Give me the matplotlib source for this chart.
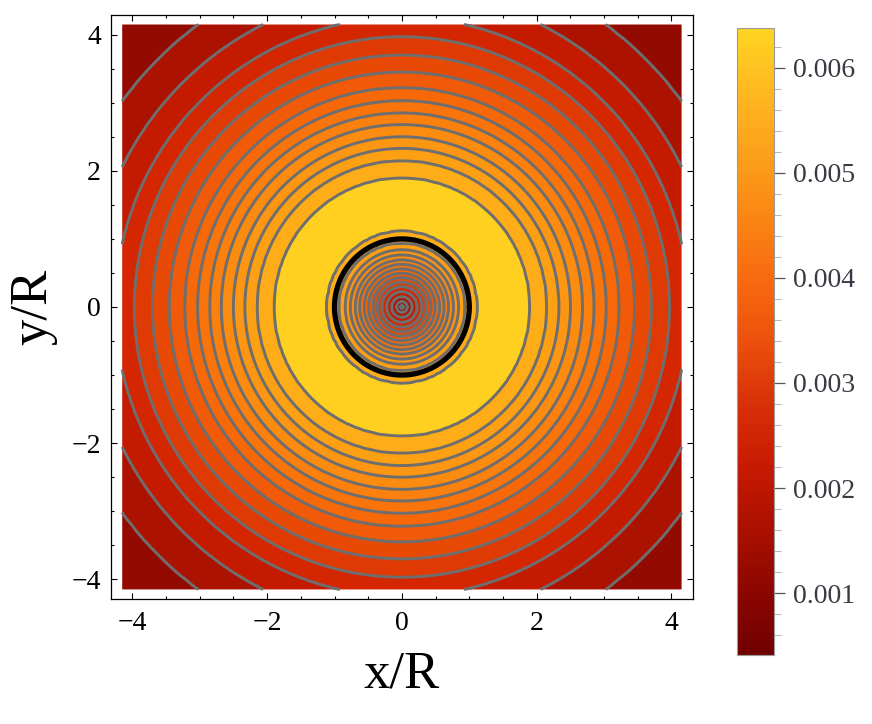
import numpy as np
import matplotlib
matplotlib.use("Agg")
import matplotlib.pyplot as plt
from matplotlib.colors import LinearSegmentedColormap, Normalize
from matplotlib.cm import ScalarMappable
from matplotlib.ticker import FixedLocator

# ---------------- data ----------------
# radial profile of the plotted quantity: radius (in R) -> value
profile_r = [0.0, 0.035, 0.078, 0.152, 0.225, 0.299, 0.363, 0.431, 0.495,
             0.559, 0.627, 0.690, 0.765, 0.840, 0.930, 1.110, 1.500, 1.900,
             2.150, 2.330, 2.500, 2.680, 2.850, 3.030, 3.220, 3.450, 3.700,
             3.970, 4.250, 4.630, 5.130, 5.900]
profile_v = [0.00020, 0.0004, 0.0008, 0.0012, 0.0016, 0.0020, 0.0024, 0.0028,
             0.0032, 0.0036, 0.0040, 0.0044, 0.0048, 0.0052, 0.0056, 0.0060,
             0.0064, 0.0060, 0.0056, 0.0052, 0.0048, 0.0044, 0.0040, 0.0036,
             0.0032, 0.0028, 0.0024, 0.0020, 0.0016, 0.0012, 0.0008, 0.00045]
contour_levels = [0.0004, 0.0008, 0.0012, 0.0016, 0.0020, 0.0024, 0.0028,
                  0.0032, 0.0036, 0.0040, 0.0044, 0.0048, 0.0052, 0.0056,
                  0.0060]
field_min, field_max = 0.0, 0.0070
data_extent = 4.15            # plotted region |x|,|y| <= 4.15
boundary_radius = 1.0         # thick black circle r = R
x_ticks = [-4, -2, 0, 2, 4]
y_ticks = [-4, -2, 0, 2, 4]
cbar_range = (0.00041, 0.00638)
cbar_ticks = [0.001, 0.002, 0.003, 0.004, 0.005, 0.006]
cbar_ticklabels = ["0.001", "0.002", "0.003", "0.004", "0.005", "0.006"]
cbar_minor = [0.0006, 0.0008, 0.0012, 0.0014, 0.0016, 0.0018, 0.0022, 0.0024,
              0.0026, 0.0028, 0.0032, 0.0034, 0.0036, 0.0038, 0.0042, 0.0044,
              0.0046, 0.0048, 0.0052, 0.0054, 0.0056, 0.0058, 0.0062]

# ---------------- style ----------------
band_colors = ["#7A0000", "#930A00", "#AC1200", "#C41A00", "#D42600",
               "#E03A04", "#E84A06", "#F05A08", "#F66808", "#F9740A",
               "#FB800E", "#FC8C10", "#FD9612", "#FEA014", "#FEAC18",
               "#FFD020"]
gradient = ["#700000", "#8C0600", "#AA1000", "#C81A02", "#D83008",
            "#EC500C", "#F86A10", "#FA8614", "#FCA01A", "#FFB820", "#FFD422"]
cmap = LinearSegmentedColormap.from_list("solar", gradient)

plt.rcParams['font.family'] = ['Liberation Serif', 'DejaVu Serif']

fig = plt.figure(figsize=(8.72, 7.24), dpi=100)
ax = fig.add_axes([0.127, 0.1727, 0.6678, 0.8066])

n = 161
xs = np.linspace(-data_extent, data_extent, n)
X, Y = np.meshgrid(xs, xs)
Rr = np.hypot(X, Y)
Z = np.interp(Rr, profile_r, profile_v)

fill_levels = [field_min] + contour_levels + [field_max]
ax.contourf(X, Y, Z, levels=fill_levels, colors=band_colors, antialiased=True)
ax.contour(X, Y, Z, levels=contour_levels, colors="#6E6E6E", linewidths=2.1)

theta = np.linspace(0, 2 * np.pi, 400)
ax.plot(boundary_radius * np.cos(theta), boundary_radius * np.sin(theta),
        color="black", lw=3.8, solid_capstyle="round")

ax.set_xlim(-4.32, 4.32)
ax.set_ylim(-4.29, 4.29)
ax.set_xticks(x_ticks)
ax.set_yticks(y_ticks)
ax.set_xticklabels([f"\u2212{abs(t)}" if t < 0 else str(t) for t in x_ticks])
ax.set_yticklabels([f"\u2212{abs(t)}" if t < 0 else str(t) for t in y_ticks])
ax.xaxis.set_minor_locator(FixedLocator(np.arange(-4, 4.01, 0.5)))
ax.yaxis.set_minor_locator(FixedLocator(np.arange(-4, 4.01, 0.5)))
ax.tick_params(which="both", direction="in", top=True, right=True,
               labelsize=20, width=0.8)
ax.tick_params(which="major", length=4.5)
ax.tick_params(which="minor", length=2.5)
ax.tick_params(axis="x", pad=9)
ax.tick_params(axis="y", pad=7)
for s in ax.spines.values():
    s.set_linewidth(0.9)

ax.set_xlabel("x/R", fontsize=38, labelpad=10)
ax.set_ylabel("y/R", fontsize=38, labelpad=10)

# colorbar
cax = fig.add_axes([0.8452, 0.0953, 0.0424, 0.8660])
sm = ScalarMappable(norm=Normalize(*cbar_range), cmap=cmap)
cb = fig.colorbar(sm, cax=cax)
cb.set_ticks(cbar_ticks)
cb.set_ticklabels(cbar_ticklabels)
cax.yaxis.set_minor_locator(FixedLocator(cbar_minor))
cax.tick_params(which="major", length=8, width=0.9, color="#555555",
                labelsize=20, labelcolor="#3A3A44", pad=6)
cax.tick_params(which="minor", length=5, width=0.8, color="#BBBBBB")
cb.outline.set_edgecolor("#9A9A9A")
cb.outline.set_linewidth(0.8)

fig.savefig("out.png", dpi=100)
